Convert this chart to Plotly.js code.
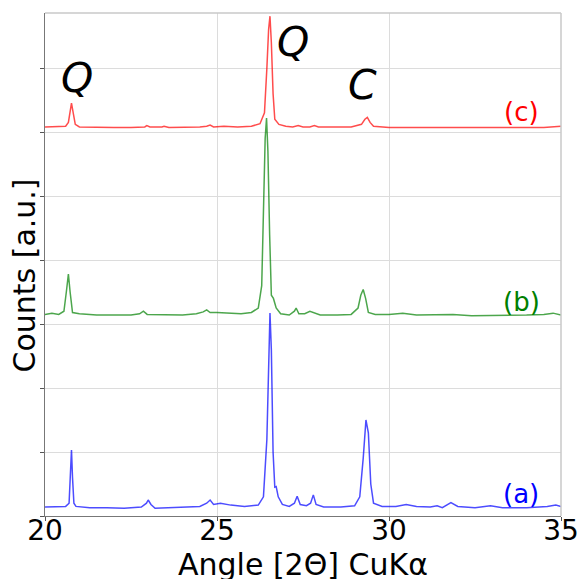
<!DOCTYPE html>
<html><head><meta charset="utf-8">
<script src="https://cdn.plot.ly/plotly-3.0.1.min.js"></script>
<style>html,body{margin:0;padding:0;background:#fff;}#chart{width:581px;height:579px;}</style>
</head><body><div id="chart"></div>
<script>
// Sample (a) - blue
const xA = [20.0,20.3,20.6,20.7,20.74,20.77,20.8,20.84,20.9,21.3,21.8,22.3,22.8,22.95,23.0,23.08,23.2,23.6,24.0,24.5,24.7,24.8,24.9,25.1,25.4,25.8,26.2,26.35,26.45,26.5,26.54,26.58,26.63,26.68,26.72,26.78,26.9,27.1,27.25,27.33,27.42,27.6,27.72,27.8,27.88,28.1,28.6,29.0,29.15,29.25,29.33,29.4,29.47,29.55,29.8,30.2,30.5,30.8,31.2,31.4,31.55,31.8,32.0,32.5,32.95,33.3,34.0,34.6,34.85,35.0];
const yA = [0.14,0.15,0.15,0.2,0.6,1.03,0.6,0.2,0.15,0.13,0.13,0.12,0.14,0.2,0.25,0.18,0.12,0.13,0.13,0.15,0.2,0.25,0.18,0.2,0.17,0.15,0.17,0.3,1.2,2.6,3.17,2.6,1.0,0.45,0.46,0.3,0.18,0.15,0.2,0.31,0.18,0.16,0.2,0.33,0.18,0.14,0.14,0.16,0.3,0.9,1.5,1.3,0.5,0.2,0.15,0.15,0.18,0.15,0.14,0.16,0.13,0.21,0.15,0.13,0.16,0.13,0.13,0.15,0.17,0.15];
// Sample (b) - green
const xB = [20.0,20.2,20.4,20.55,20.62,20.68,20.73,20.8,21.0,21.5,22.0,22.5,22.75,22.86,22.97,23.2,23.6,24.0,24.4,24.6,24.7,24.8,25.0,25.3,25.7,26.0,26.2,26.3,26.36,26.4,26.44,26.48,26.53,26.58,26.64,26.72,26.85,27.1,27.25,27.3,27.38,27.55,27.7,27.8,28.0,28.5,28.9,29.1,29.18,29.25,29.32,29.4,29.6,30.0,30.4,30.8,31.4,31.86,32.4,33.0,34.0,34.5,34.77,35.0];
const yB = [3.15,3.17,3.15,3.2,3.5,3.78,3.5,3.18,3.16,3.14,3.14,3.14,3.16,3.2,3.15,3.15,3.14,3.14,3.16,3.19,3.22,3.18,3.18,3.17,3.16,3.18,3.25,3.6,4.8,5.9,6.22,5.7,4.4,3.45,3.4,3.25,3.16,3.14,3.2,3.25,3.16,3.16,3.2,3.18,3.14,3.14,3.15,3.25,3.45,3.54,3.4,3.18,3.15,3.15,3.17,3.14,3.14,3.15,3.13,3.13,3.14,3.15,3.17,3.14];
// Sample (c) - red
const xC = [20.0,20.4,20.6,20.68,20.73,20.77,20.82,20.88,21.0,21.5,22.0,22.5,22.9,22.96,23.05,23.4,23.46,23.6,24.0,24.5,24.7,24.8,24.9,25.2,25.6,26.0,26.25,26.38,26.45,26.5,26.54,26.58,26.63,26.68,26.8,27.0,27.2,27.36,27.5,27.7,27.83,27.95,28.4,28.9,29.2,29.3,29.37,29.45,29.55,30.0,31.0,32.0,33.0,34.0,34.5,35.0];
const yC = [6.08,6.08,6.09,6.15,6.35,6.45,6.3,6.12,6.08,6.07,6.07,6.07,6.08,6.1,6.08,6.08,6.09,6.07,6.07,6.08,6.09,6.11,6.08,6.09,6.08,6.09,6.13,6.3,7.0,7.6,7.81,7.4,6.6,6.2,6.12,6.09,6.08,6.1,6.08,6.08,6.1,6.08,6.08,6.08,6.12,6.2,6.23,6.15,6.09,6.07,6.07,6.07,6.07,6.07,6.07,6.09];

const xTicks = [20,25,30,35];
const peakLabels = ['Q','Q','C'];
const peakX = [20.93,27.21,29.22];
const peakY = [6.84,7.41,6.73];
const sampleLabels = ['(a)','(b)','(c)'];
const sampleColors = ['#0000ff','#008000','#ff0000'];
const sampleLabelX = [33.84,33.84,33.84];
const sampleLabelY = [0.34,3.34,6.31];
const xTitle = 'Angle [2Θ] CuKα';
const yTitle = 'Counts [a.u.]';

const lineCols = ['rgba(0,0,255,0.7)','rgba(0,128,0,0.7)','rgba(255,0,0,0.7)'];
const data = [[xA,yA],[xB,yB],[xC,yC]].map((d,i)=>({
  x:d[0], y:d[1], type:'scatter', mode:'lines',
  line:{color:lineCols[i], width:1.5}, hoverinfo:'skip', showlegend:false
}));

const font = 'DejaVu Sans, sans-serif';
const annotations = [];
peakLabels.forEach((t,i)=>annotations.push({x:peakX[i], y:peakY[i], xref:'x', yref:'y', text:'<i>'+t+'</i>', showarrow:false, font:{family:font,size:41,color:'#000'}, xanchor:'center', yanchor:'middle'}));
sampleLabels.forEach((t,i)=>annotations.push({x:sampleLabelX[i], y:sampleLabelY[i], xref:'x', yref:'y', text:t, showarrow:false, font:{family:font,size:26,color:sampleColors[i]}, xanchor:'center', yanchor:'middle'}));
// axis titles placed as annotations for exact positioning
annotations.push({xref:'paper', yref:'paper', x:0, y:0.478, xanchor:'center', yanchor:'middle', xshift:-20, text:yTitle, textangle:-90, showarrow:false, font:{family:font,size:30,color:'#000'}});
annotations.push({xref:'paper', yref:'paper', x:0.5, y:0, xanchor:'center', yanchor:'top', yshift:-29, text:xTitle, showarrow:false, font:{family:font,size:30,color:'#000'}});

const layout = {
  width:581, height:579,
  margin:{l:45, r:20, t:13, b:63},
  paper_bgcolor:'#fff', plot_bgcolor:'#fff',
  font:{family:font, color:'#000'},
  xaxis:{range:[20,35], tickvals:xTicks, ticktext:xTicks.map(String), tickfont:{size:28,family:font,color:'#000'},
    ticks:'outside', ticklen:4, tickcolor:'#555', showline:true, linecolor:'#777', linewidth:1, ticklabelstandoff:-15,
    showgrid:true, gridcolor:'#dcdcdc', gridwidth:1, zeroline:false},
  yaxis:{range:[0,7.86], dtick:1, tick0:0, showticklabels:false, ticks:'outside', ticklen:4, tickcolor:'#555',
    showline:true, linecolor:'#777', linewidth:1, showgrid:true, gridcolor:'#dcdcdc', gridwidth:1, zeroline:false},
  shapes:[{type:'line', xref:'paper', yref:'paper', x0:0, x1:1, y0:1, y1:1, line:{color:'#c8c8c8', width:1.5}},
          {type:'line', xref:'paper', yref:'paper', x0:1, x1:1, y0:0, y1:1, line:{color:'#c8c8c8', width:1.5}}],
  annotations:annotations
};
Plotly.newPlot('chart', data, layout, {displayModeBar:false, staticPlot:true});
</script></body></html>
